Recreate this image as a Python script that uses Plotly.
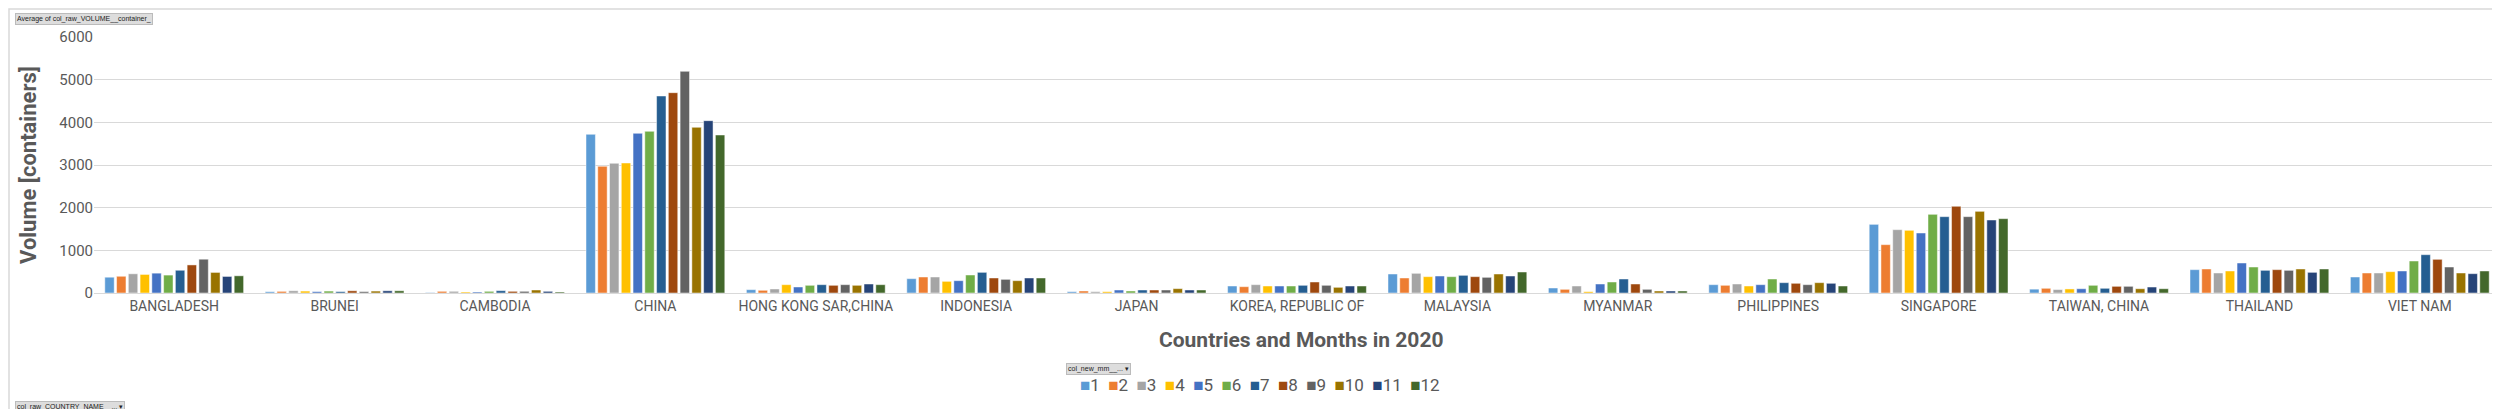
import plotly.graph_objects as go

countries = ["BANGLADESH", "BRUNEI", "CAMBODIA", "CHINA", "HONG KONG SAR,CHINA",
             "INDONESIA", "JAPAN", "KOREA, REPUBLIC OF", "MALAYSIA", "MYANMAR",
             "PHILIPPINES", "SINGAPORE", "TAIWAN, CHINA", "THAILAND", "VIET NAM"]

# Average volume per country for each month (1..12)
m1  = [370, 30, 10, 3719, 78, 336, 31, 164, 445, 117, 195, 1609, 90, 547, 375]
m2  = [392, 38, 39, 2969, 63, 375, 47, 148, 352, 86, 180, 1133, 110, 563, 469]
m3  = [450, 52, 39, 3039, 94, 375, 31, 195, 461, 164, 211, 1484, 80, 469, 469]
m4  = [435, 45, 23, 3047, 195, 273, 31, 164, 383, 31, 164, 1469, 95, 516, 500]
m5  = [465, 32, 23, 3742, 141, 289, 70, 164, 398, 211, 195, 1406, 100, 703, 516]
m6  = [420, 45, 39, 3789, 180, 422, 47, 164, 383, 258, 328, 1844, 180, 609, 750]
m7  = [533, 32, 55, 4617, 195, 484, 70, 180, 414, 328, 242, 1789, 110, 531, 898]
m8  = [658, 52, 39, 4695, 180, 352, 70, 258, 383, 211, 227, 2031, 156, 547, 789]
m9  = [792, 32, 39, 5195, 195, 320, 70, 180, 367, 86, 195, 1789, 156, 531, 609]
m10 = [482, 45, 70, 3883, 180, 289, 102, 133, 445, 47, 242, 1914, 100, 563, 469]
m11 = [388, 52, 39, 4039, 211, 352, 70, 164, 398, 47, 227, 1711, 140, 484, 453]
m12 = [403, 52, 23, 3703, 195, 352, 70, 164, 492, 47, 164, 1742, 100, 563, 516]

months = ["1", "2", "3", "4", "5", "6", "7", "8", "9", "10", "11", "12"]
series = [m1, m2, m3, m4, m5, m6, m7, m8, m9, m10, m11, m12]
colors = ["#5B9BD5", "#ED7D31", "#A5A5A5", "#FFC000", "#4472C4", "#70AD47",
          "#255E91", "#9E480E", "#636363", "#997300", "#264478", "#43682B"]

fig = go.Figure()
for name, vals, col in zip(months, series, colors):
    fig.add_trace(go.Bar(x=countries, y=vals, name=name,
                         marker=dict(color=col, line=dict(width=0.8, color="rgba(255,255,255,0.6)"))))

W, H = 2500, 409
L, R, T, B = 86, 8, 29, 124
pw, ph = W - L - R, H - T - B
def px(x): return (x - L) / pw
def py(y): return (H - B - y) / ph

font_main = "Roboto, Liberation Sans, sans-serif"
grey = "#595959"

fig.update_layout(
    width=W, height=H,
    margin=dict(l=L, r=R, t=T, b=B),
    paper_bgcolor="white", plot_bgcolor="white",
    barmode="group", bargap=0.12, bargroupgap=0.2,
    font=dict(family=font_main, color=grey, size=14),
    showlegend=False,
    xaxis=dict(showgrid=False, showline=True, linecolor="#D9D9D9", linewidth=1,
               ticks="", tickfont=dict(size=14, color=grey, family=font_main)),
    yaxis=dict(range=[0, 6000], tickvals=[0, 1000, 2000, 3000, 4000, 5000, 6000],
               showgrid=True, gridcolor="#D9D9D9", gridwidth=1, zeroline=False,
               showline=False, ticks="", ticklen=0,
               tickfont=dict(size=15, color=grey, family=font_main)),
)

# legend built from the month names and colours
legend_text = "&nbsp;&nbsp;".join(
    f"<span style='color:{c}'>■</span>{m}" for m, c in zip(months, colors))

ann = []
ann.append(dict(text=legend_text, x=px(1252), y=py(377), xref="paper", yref="paper",
                showarrow=False, xanchor="center", yanchor="middle",
                font=dict(size=17, color=grey, family=font_main)))
ann.append(dict(text="<b>Volume [containers]</b>", textangle=-90, x=px(20), y=py(157),
                xref="paper", yref="paper", showarrow=False, xanchor="center", yanchor="middle",
                font=dict(size=22, color=grey, family=font_main)))
ann.append(dict(text="<b>Countries and Months in 2020</b>", x=px(1293), y=py(332),
                xref="paper", yref="paper", showarrow=False, xanchor="center", yanchor="middle",
                font=dict(size=21, color=grey, family=font_main)))
btn = dict(xref="paper", yref="paper", showarrow=False, xanchor="left", yanchor="middle",
           bgcolor="#DDDDDD", bordercolor="#BBBBBB", borderwidth=1, borderpad=1,
           font=dict(size=7, color="#222222", family="Liberation Sans, sans-serif"))
ann.append(dict(text="Average of col_raw_VOLUME__container_", x=px(7), y=py(11), **btn))
ann.append(dict(text="col_new_mm__... ▾", x=px(1058), y=py(361), **btn))
ann.append(dict(text="col_raw_COUNTRY_NAME__... ▾", x=px(7), y=py(399), **btn))
fig.update_layout(annotations=ann)

fig.add_shape(type="rect", xref="paper", yref="paper",
              x0=px(1), x1=px(2497), y0=py(407), y1=py(1),
              line=dict(color="#D9D9D9", width=1.5), fillcolor="rgba(0,0,0,0)", layer="below")

fig.write_html("out.html")
